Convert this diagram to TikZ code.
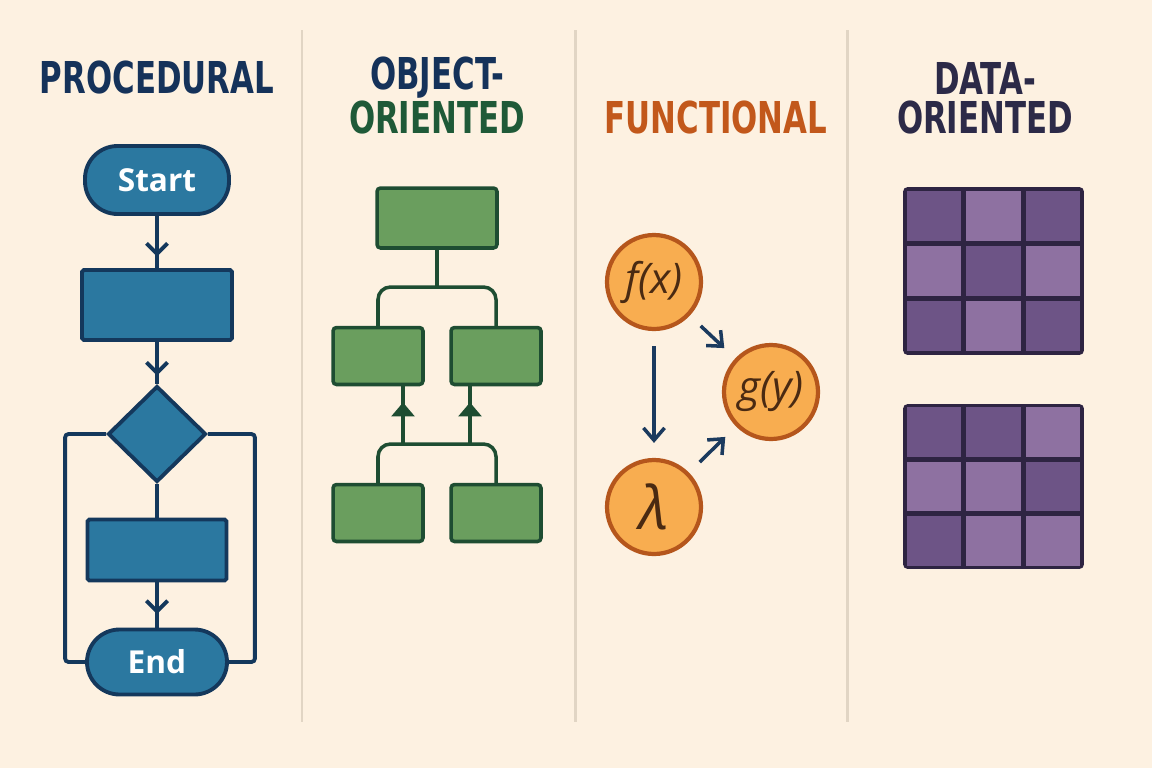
\documentclass[tikz,border=0pt]{standalone}
\usepackage{fontspec}
\setmainfont{Open Sans}
\newfontfamily\headfont{DejaVu Sans Condensed}[FakeStretch=0.78]
\usetikzlibrary{shapes.geometric,arrows.meta,decorations.markings}

\definecolor{paper}{HTML}{FDF1E1}
\definecolor{rulecol}{HTML}{E1D5C4}
\definecolor{procfill}{HTML}{2B78A0}
\definecolor{procline}{HTML}{14385C}
\definecolor{navy}{HTML}{15325A}
\definecolor{oofill}{HTML}{6A9E5E}
\definecolor{ooline}{HTML}{1E4D32}
\definecolor{oogreen}{HTML}{1F5A38}
\definecolor{fnfill}{HTML}{F8AD50}
\definecolor{fnline}{HTML}{B5561C}
\definecolor{fntext}{HTML}{4A2A12}
\definecolor{fnorange}{HTML}{C2581B}
\definecolor{fnarrow}{HTML}{1B3A5E}
\definecolor{dodark}{HTML}{6D5486}
\definecolor{dolight}{HTML}{8E71A1}
\definecolor{doline}{HTML}{2E2442}
\definecolor{dotitle}{HTML}{2C2A48}

\begin{document}
\begin{tikzpicture}[x=0.02cm,y=-0.02cm,
  title/.style={font=\headfont\bfseries\fontsize{25}{28}\selectfont, inner sep=0pt},
  pill/.style={draw=procline, fill=procfill, line width=2.2pt, rounded corners=0.65cm,
    text=white, font=\bfseries\fontsize{18}{20}\selectfont},
  procbox/.style={draw=procline, fill=procfill, line width=2.2pt, rounded corners=1pt},
  flowline/.style={procline, line width=2.2pt},
  midarrow/.style={postaction=decorate, decoration={markings,
    mark=at position #1 with {\arrow{Straight Barb[length=6pt,width=12pt,line width=2.2pt]}}}},
  objbox/.style={draw=ooline, fill=oofill, line width=2pt, rounded corners=2pt,
    minimum width=1.8cm, minimum height=1.14cm},
  treeline/.style={ooline, line width=2pt},
  uparrow/.style={postaction=decorate, decoration={markings,
    mark=at position 0.72 with {\arrow{Triangle[length=8pt,width=13pt]}}}},
  fnnode/.style={circle, draw=fnline, fill=fnfill, line width=2.4pt, minimum size=1.88cm,
    inner sep=0pt, text=fntext, font=\itshape\fontsize{24}{26}\selectfont},
  fnlink/.style={fnarrow, line width=2pt, shorten >=0.3cm, shorten <=0.3cm,
    -{Straight Barb[length=7pt,width=12pt]}},
  gridbox/.style={fill=doline, draw=doline, line width=1pt, rounded corners=2pt},
  cell/.style={inner sep=0pt, minimum width=1.09cm, minimum height=1.0cm},
  divider/.style={rulecol, line width=1.7pt}]

\fill[paper] (0,0) rectangle (1152,768);
\draw[divider] (302,30) -- (302,722);
\draw[divider] (575,30) -- (575,722);
\draw[divider] (847,30) -- (847,722);

% procedural
\node[title, text=navy] (tproc) at (157,78) {PROCEDURAL};
\node[pill, minimum width=2.88cm, minimum height=1.36cm] (start) at (157,180) {Start};
\node[procbox, minimum width=3cm, minimum height=1.4cm] (task) at (157,305) {};
\node[diamond, draw=procline, fill=procfill, line width=2.2pt, inner sep=0pt,
  minimum width=1.96cm, minimum height=1.92cm] (check) at (157,434) {};
\node[procbox, minimum width=2.78cm, minimum height=1.22cm] (step) at (157,550) {};
\node[pill, minimum width=2.8cm, minimum height=1.3cm] (stop) at (157,662) {End};
\draw[flowline, midarrow=0.78] (start) -- (task);
\draw[flowline, midarrow=0.8] (task) -- (check);
\draw[flowline] (check) -- (step);
\draw[flowline, midarrow=0.7] (step) -- (stop);
\draw[flowline, rounded corners=2pt] (check.west) -- ++(-41,0) |- (stop.west);
\draw[flowline, rounded corners=2pt] (check.east) -- ++(47,0) |- (stop.east);

% object-oriented
\node[title, text=navy] (toop1) at (437,78) {OBJECT-};
\node[title, text=oogreen] (toop2) at (437,118) {ORIENTED};
\node[objbox, minimum width=2.4cm, minimum height=1.2cm] (base) at (437,218) {};
\node[objbox] (midl) at (378,356) {};
\node[objbox] (midr) at (496,356) {};
\node[objbox] (botl) at (378,513) {};
\node[objbox] (botr) at (496,513) {};
\coordinate (split) at (437,287);
\coordinate (join) at (437,444);
\coordinate (upl) at (403,444);
\coordinate (upr) at (470,444);
\draw[treeline] (base) -- (split);
\draw[treeline, rounded corners=0.25cm] (midl.north) |- (split) -| (midr.north);
\draw[treeline, rounded corners=0.25cm] (botl.north) |- (join) -| (botr.north);
\draw[treeline, uparrow] (upl) -- (upl |- midl.south);
\draw[treeline, uparrow] (upr) -- (upr |- midr.south);

% functional
\node[title, text=fnorange] (tfun) at (716,118) {FUNCTIONAL};
\node[fnnode] (fx) at (654,282) {f(x)};
\node[fnnode] (gy) at (771,392) {g(y)};
\node[fnnode, font=\itshape\fontsize{34}{36}\selectfont] (lam) at (654,507) {λ};
\draw[fnlink] (fx) -- (lam);
\draw[fnlink] (fx) -- (gy);
\draw[fnlink] (lam) -- (gy);

% data-oriented
\node[title, text=dotitle] (tdat1) at (985,78) {DATA-};
\node[title, text=dotitle] (tdat2) at (985,118) {ORIENTED};
\node[gridbox, minimum width=3.58cm, minimum height=3.32cm] (grida) at (993.5,271) {};
\node[gridbox, minimum width=3.58cm, minimum height=3.26cm] (gridb) at (993.5,486.5) {};
\foreach \r/\c/\k in {1/1/dodark,1/2/dolight,1/3/dodark,
                      2/1/dolight,2/2/dodark,2/3/dolight,
                      3/1/dodark,3/2/dolight,3/3/dodark}
  \node[cell, fill=\k] (a\r\c) at ({904+(\c-0.5)*59.67},{188+(\r-0.5)*55.33}) {};
\foreach \r/\c/\k in {1/1/dodark,1/2/dodark,1/3/dolight,
                      2/1/dolight,2/2/dolight,2/3/dodark,
                      3/1/dodark,3/2/dolight,3/3/dolight}
  \node[cell, fill=\k, minimum height=0.99cm] (b\r\c) at ({904+(\c-0.5)*59.67},{405+(\r-0.5)*54.33}) {};
\end{tikzpicture}
\end{document}
